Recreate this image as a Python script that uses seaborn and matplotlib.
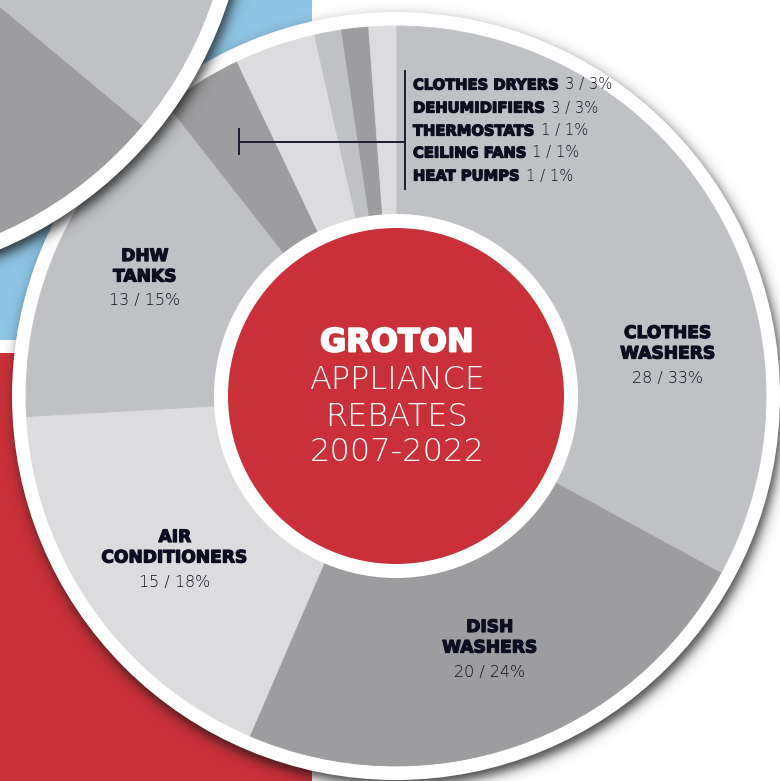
import numpy as np
import matplotlib
matplotlib.use("Agg")
import matplotlib.pyplot as plt
import matplotlib.patheffects as pe
from matplotlib.patches import Circle, Rectangle, Wedge
import seaborn as sns

# ---- data -------------------------------------------------------------
categories = ["CLOTHES WASHERS", "DISH WASHERS", "AIR CONDITIONERS", "DHW TANKS",
              "CLOTHES DRYERS", "DEHUMIDIFIERS", "THERMOSTATS", "CEILING FANS",
              "HEAT PUMPS"]
counts = [28, 20, 15, 13, 3, 3, 1, 1, 1]
percents = [33, 24, 18, 15, 3, 3, 1, 1, 1]
title_lines = ["GROTON", "APPLIANCE", "REBATES", "2007-2022"]

# ---- style ------------------------------------------------------------
sns.set_theme(style="white")
slice_palette = sns.color_palette(["#bfc1c4", "#9d9d9f", "#dcdcde"])
RED = "#c9303a"
BLUE = "#8ec4e4"
INK = "#0d0e1f"


def heavy(color, width=0.9):
    return [pe.withStroke(linewidth=width, foreground=color)]


BOLD = dict(family="DejaVu Sans", fontweight="bold", color=INK,
            path_effects=heavy(INK))
LIGHT = dict(family="DejaVu Sans", fontweight="light", color=INK)

W, H = 780, 781


def Y(y):
    """Convert a top-down pixel row into the y-up data coordinate."""
    return H - y


fig = plt.figure(figsize=(W / 100, H / 100), dpi=100)
ax = fig.add_axes([0, 0, 1, 1])
ax.set_axis_off()

# backdrop panels of the poster
ax.add_patch(Rectangle((0, Y(340)), 312, 340, color=BLUE, lw=0, zorder=1))
ax.add_patch(Rectangle((0, 0), 312, Y(353), color=RED, lw=0, zorder=1))

yy, xx = np.mgrid[0:H, 0:W] + 0.5


def drop_shadow(cx, cy, r, dx, dy, soft, alpha, z):
    """Soft shadow of a disc given in top-down pixel coordinates."""
    d = np.hypot(xx - (cx + dx), yy - (cy + dy))
    img = np.zeros((H, W, 4))
    img[..., :3] = 0.08
    img[..., 3] = alpha / (1.0 + np.exp((d - r) / soft))
    ax.imshow(img, extent=(0, W, 0, H), origin="upper", zorder=z,
              interpolation="bilinear")


# ---- main donut ---------------------------------------------------------
CX, CY = 396, 396          # centre, top-down pixels
R_OUT, R_RIM = 370, 384

drop_shadow(CX, CY, R_RIM, 3, 6, 3.5, 0.8, 2)
ax.add_patch(Circle((CX, Y(CY)), R_RIM, color="white", lw=0, zorder=3))

colors = [slice_palette[i % 3] for i in range(len(counts))]
wedges, _ = ax.pie(counts, colors=colors, startangle=90, counterclock=False,
                   radius=R_OUT, center=(CX, Y(CY)), frame=True,
                   wedgeprops=dict(linewidth=0.6, zorder=4))
for w in wedges:
    w.set_edgecolor(w.get_facecolor())

ax.add_patch(Circle((CX, Y(CY)), 182, color="white", lw=0, zorder=5))
ax.add_patch(Circle((CX, Y(CY)), 168, color=RED, lw=0, zorder=6))

# centre title
title_y = [343, 380, 417, 452]
for i, (line, ty) in enumerate(zip(title_lines, title_y)):
    if i == 0:
        style = dict(BOLD, color="white", path_effects=heavy("white", 1.4))
    else:
        style = dict(LIGHT, color="white")
    ax.text(CX + 1, Y(ty), line, ha="center", va="center", fontsize=23,
            zorder=7, **style)

# labels for the large slices
label_anchor = {"CLOTHES WASHERS": (668, 333),
                "DISH WASHERS": (490, 627),
                "AIR CONDITIONERS": (175, 537),
                "DHW TANKS": (145, 256)}
for name, n, p in zip(categories, counts, percents):
    if name not in label_anchor:
        continue
    lx, ly = label_anchor[name]
    for k, word in enumerate(name.split(" ")):
        ax.text(lx, Y(ly + 20.5 * k), word, ha="center", va="center",
                fontsize=12.3, zorder=7, **BOLD)
    ax.text(lx, Y(ly + 45), f"{n} / {p}%", ha="center", va="center",
            fontsize=11.5, zorder=7, **LIGHT)

# list for the thin slices with its bracket
list_y = [85, 108, 131, 153, 176]
small = [(c, n, p) for c, n, p in zip(categories, counts, percents)
         if c not in label_anchor]
for (name, n, p), ly in zip(small, list_y):
    t = ax.text(413, Y(ly), name, ha="left", va="center", fontsize=10.6,
                zorder=7, **BOLD)
    ax.annotate(f"{n} / {p}%", xy=(1, 0.5), xycoords=t, xytext=(4, 0),
                textcoords="offset points", ha="left", va="center",
                fontsize=10.6, zorder=7, **LIGHT)

bracket = dict(color="#1b1d2e", lw=1.4, zorder=7, solid_capstyle="butt")
ax.plot([405, 405], [Y(70), Y(190)], **bracket)
ax.plot([239, 405], [Y(142), Y(142)], **bracket)
ax.plot([239, 239], [Y(128), Y(155)], **bracket)

# ---- neighbouring chart peeking in at the top-left -------------------------
BX, BY = -157, -124
drop_shadow(BX, BY, 405, 3, 6, 3.5, 0.8, 8)
ax.add_patch(Circle((BX, Y(BY)), 405, color="white", lw=0, zorder=9))
neighbour_edges = [-39.8, 140.2, 320.2]
for k in range(2):
    ax.add_patch(Wedge((BX, Y(BY)), 390, neighbour_edges[k],
                       neighbour_edges[k + 1], color=slice_palette[k],
                       lw=0, zorder=10))

ax.set_xlim(0, W)
ax.set_ylim(0, H)
ax.set_aspect("equal")
fig.savefig("out.png", dpi=100, facecolor="white")
